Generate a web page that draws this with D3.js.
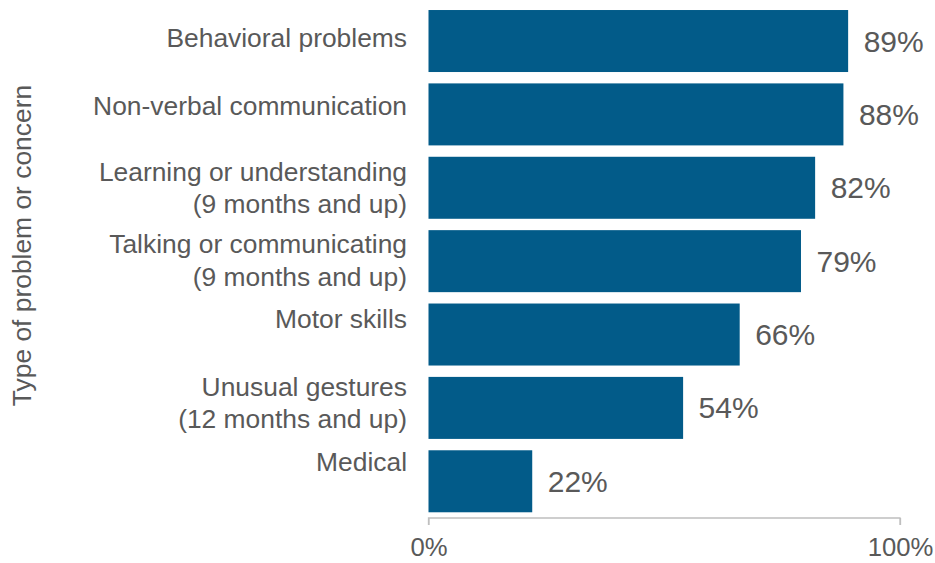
<!DOCTYPE html>
<html>
<head>
<meta charset="utf-8">
<script src="https://cdn.jsdelivr.net/npm/d3@7"></script>
<style>
  html, body { margin: 0; padding: 0; background: #ffffff; }
  svg { display: block; font-family: "Liberation Sans", Arial, sans-serif; }
</style>
</head>
<body>
<svg id="chart" width="935" height="563"></svg>
<script>
// Share of children with each type of problem or concern
const categories = [
  ["Behavioral problems"],
  ["Non-verbal communication"],
  ["Learning or understanding", "(9 months and up)"],
  ["Talking or communicating", "(9 months and up)"],
  ["Motor skills"],
  ["Unusual gestures", "(12 months and up)"],
  ["Medical"]
];
const values = [89, 88, 82, 79, 66, 54, 22];
const tickValues = [0, 100];
const yTitle = "Type of problem or concern";

// Layout
const width = 935, height = 563;
const plot = { left: 428.5, right: 900, top: 4.3, bottom: 518 };
const barColor = "#025b89";
const textColor = "#595959";
const axisColor = "#bfbfbf";
// Small vertical nudges for the category label blocks
const labelLift = [-3, -9, 0, -1, -16, -5, -20];

const svg = d3.select("#chart");

const x = d3.scaleLinear().domain([0, 100]).range([plot.left, plot.right]);
const y = d3.scaleBand()
  .domain(d3.range(values.length))
  .range([plot.top, plot.bottom])
  .paddingInner(0.155)
  .paddingOuter(0.078);

// Bars
svg.append("g")
  .selectAll("rect")
  .data(values)
  .join("rect")
  .attr("x", x(0))
  .attr("y", (d, i) => y(i))
  .attr("width", d => x(d) - x(0))
  .attr("height", y.bandwidth())
  .attr("fill", barColor);

// Value labels
svg.append("g")
  .selectAll("text")
  .data(values)
  .join("text")
  .attr("x", d => x(d) + 15.5)
  .attr("y", (d, i) => y(i) + y.bandwidth() / 2 + 10.5)
  .attr("fill", textColor)
  .style("font-size", "30px")
  .text(d => d + "%");

// Category labels
const catSize = 26.4, lineH = 32.5;
const cat = svg.append("g")
  .selectAll("text")
  .data(categories)
  .join("text")
  .attr("text-anchor", "end")
  .attr("fill", textColor)
  .style("font-size", catSize + "px")
  .attr("transform", (d, i) => {
    const c = y(i) + y.bandwidth() / 2;
    const first = c + 0.35 * catSize - (d.length - 1) * lineH / 2 + labelLift[i];
    return `translate(407,${first})`;
  });
cat.selectAll("tspan")
  .data(d => d)
  .join("tspan")
  .attr("x", 0)
  .attr("y", (d, j) => j * lineH)
  .text(d => d);

// X axis
const xAxis = d3.axisBottom(x)
  .tickValues(tickValues)
  .tickFormat(d => d + "%")
  .tickSize(7)
  .tickPadding(13);

const gx = svg.append("g")
  .attr("transform", `translate(0,${plot.bottom})`)
  .call(xAxis);
gx.select(".domain")
  .attr("stroke", axisColor)
  .attr("stroke-width", 1.3)
  .attr("d", `M${x(0)},7V0H${x(100)}V7`);
gx.selectAll(".tick line").attr("stroke", axisColor).attr("stroke-width", 1.3);
gx.selectAll(".tick text")
  .attr("fill", textColor)
  .style("font-size", "25.7px")
  .style("font-family", "'Liberation Sans', Arial, sans-serif");

// Y axis title
svg.append("text")
  .attr("transform", `translate(31,${245.5}) rotate(-90)`)
  .attr("text-anchor", "middle")
  .attr("fill", textColor)
  .style("font-size", "26.4px")
  .text(yTitle);
</script>
</body>
</html>
